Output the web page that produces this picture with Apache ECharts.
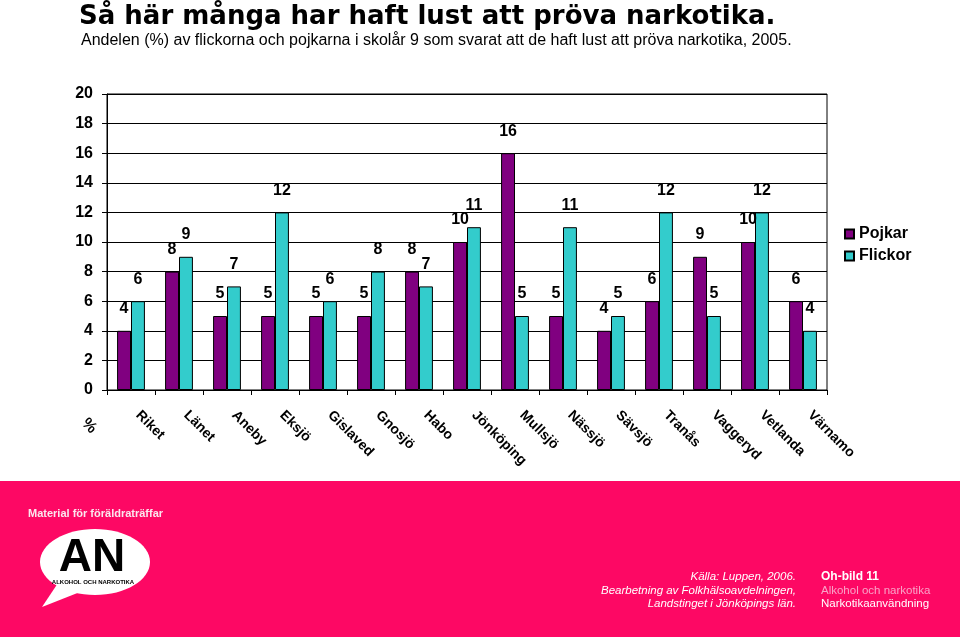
<!DOCTYPE html>
<html>
<head>
<meta charset="utf-8">
<script src="https://cdn.jsdelivr.net/npm/echarts@6/dist/echarts.min.js"></script>
<style>html,body{margin:0;padding:0;background:#fff;}#c{width:960px;height:637px;}</style>
</head>
<body>
<div id="c"></div>
<script>
var categories = ['Riket','Länet','Aneby','Eksjö','Gislaved','Gnosjö','Habo','Jönköping','Mullsjö','Nässjö','Sävsjö','Tranås','Vaggeryd','Vetlanda','Värnamo'];
var pojkar = [4,8,5,5,5,5,8,10,16,5,4,6,9,10,6];
var flickor = [6,9,7,12,6,8,7,11,5,11,5,12,5,12,4];
var yMin = 0, yMax = 20, yStep = 2;

var titleText = 'Så här många har haft lust att pröva narkotika.';
var subText = 'Andelen (%) av flickorna och pojkarna i skolår 9 som svarat att de haft lust att pröva narkotika, 2005.';
var pink = '#fd0864';
var narrow = '"Liberation Sans Narrow", "Arial Narrow", "Liberation Sans", Arial, sans-serif';
var sans = '"Liberation Sans", Arial, Helvetica, sans-serif';

var chart = echarts.init(document.getElementById('c'), null, {renderer:'canvas'});
var labelCfg = {show:true, position:'top', distance:14, color:'#000', fontFamily:narrow, fontWeight:'bold', fontSize:16};
chart.setOption({
  animation:false,
  backgroundColor:'#fff',
  title:[
    {text:titleText, left:74, top:-1, textStyle:{fontFamily:'"DejaVu Sans", sans-serif', fontWeight:'bold', fontSize:26, color:'#000'}},
    {text:subText, left:76, top:28, textStyle:{fontFamily:sans, fontWeight:'normal', fontSize:16, color:'#000'}}
  ],
  grid:{left:107, right:133, top:94, bottom:247, show:true, borderColor:'#000', borderWidth:1, containLabel:false},
  legend:{orient:'vertical', left:839, top:221, itemWidth:9, itemHeight:9, itemGap:6, icon:'rect',
    textStyle:{fontFamily:sans, fontWeight:'bold', fontSize:16, color:'#000'},
    data:['Pojkar','Flickor']},
  xAxis:{type:'category', data:categories,
    axisLine:{show:true, lineStyle:{color:'#000', width:1}},
    axisTick:{show:true, interval:0, length:5, lineStyle:{color:'#000'}},
    axisLabel:{interval:0, rotate:-45, margin:16, padding:[0,0,0,10], color:'#000', fontFamily:sans, fontWeight:'bold', fontSize:14}},
  yAxis:{type:'value', min:yMin, max:yMax, interval:yStep,
    axisLine:{show:true, lineStyle:{color:'#000', width:1}},
    axisTick:{show:true, length:5, lineStyle:{color:'#000'}},
    axisLabel:{margin:14, color:'#000', fontFamily:sans, fontWeight:'bold', fontSize:16},
    splitLine:{show:true, lineStyle:{color:'#000', width:1}}},
  series:[
    {name:'Pojkar', type:'bar', data:pojkar, barGap:'0%', barCategoryGap:'42%',
      itemStyle:{color:'#800080', borderColor:'#000', borderWidth:1}, label:labelCfg},
    {name:'Flickor', type:'bar', data:flickor, barGap:'0%', barCategoryGap:'42%',
      itemStyle:{color:'#33cccc', borderColor:'#000', borderWidth:1}, label:labelCfg}
  ],
  graphic:[
    {type:'text', x:84, y:421, rotation:-Math.PI/4, style:{text:'%', fill:'#000', font:'bold 16px '+sans, textAlign:'left', textVerticalAlign:'middle'}},
    {type:'rect', x:0, y:481, shape:{x:0, y:0, width:960, height:156}, style:{fill:pink}, z:-1},
    {type:'text', x:28, y:514, style:{text:'Material för föräldraträffar', fill:'#fbe6ee', font:'bold 11px '+sans, textVerticalAlign:'middle'}},
    {type:'polygon', shape:{points:[[58,583],[42,607],[80,592]]}, style:{fill:'#fff'}},
    {type:'ellipse', shape:{cx:95, cy:562, rx:55, ry:33}, style:{fill:'#fff'}},
    {type:'text', x:92, y:558, style:{text:'AN', fill:'#000', font:'bold 46px '+sans, textAlign:'center', textVerticalAlign:'middle'}},
    {type:'text', x:93, y:582, style:{text:'ALKOHOL OCH NARKOTIKA', fill:'#000', font:'bold 6px '+sans, textAlign:'center', textVerticalAlign:'middle'}},
    {type:'text', x:796, y:577, style:{text:'Källa: Luppen, 2006.', fill:'#fff', font:'italic 11.5px '+sans, textAlign:'right', textVerticalAlign:'middle'}},
    {type:'text', x:796, y:591, style:{text:'Bearbetning av Folkhälsoavdelningen,', fill:'#fff', font:'italic 11.5px '+sans, textAlign:'right', textVerticalAlign:'middle'}},
    {type:'text', x:796, y:604, style:{text:'Landstinget i Jönköpings län.', fill:'#fff', font:'italic 11.5px '+sans, textAlign:'right', textVerticalAlign:'middle'}},
    {type:'text', x:821, y:577, style:{text:'Oh-bild 11', fill:'#fff', font:'bold 12px '+sans, textVerticalAlign:'middle'}},
    {type:'text', x:821, y:591, style:{text:'Alkohol och narkotika', fill:'#f9a3c8', font:'11.5px '+sans, textVerticalAlign:'middle'}},
    {type:'text', x:821, y:604, style:{text:'Narkotikaanvändning', fill:'#fff', font:'11.5px '+sans, textVerticalAlign:'middle'}}
  ]
});
</script>
</body>
</html>
